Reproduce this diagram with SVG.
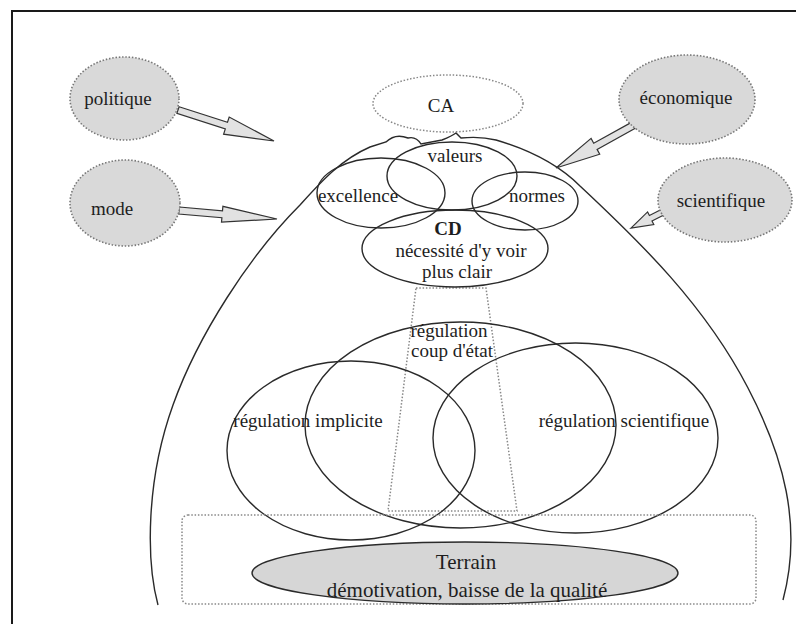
<svg xmlns="http://www.w3.org/2000/svg" width="796" height="624" viewBox="0 0 796 624">
  <style>
    text { font-family: "Liberation Serif", "Times New Roman", serif; font-size: 19px; fill: #1e1e1e; text-anchor: middle; }
    .big { font-size: 21px; }
    .bold { font-weight: bold; }
    .line { fill: none; stroke: #2a2a2a; stroke-width: 1.4; }
    .force { fill: #d9d9d9; stroke: #777; stroke-width: 1.6; stroke-dasharray: 1.5 1.8; }
    .dots { fill: none; stroke: #888; stroke-width: 1.5; stroke-dasharray: 1.5 1.8; }
    .arrow { fill: #e2e2e2; stroke: #333; stroke-width: 1.2; stroke-linejoin: miter; }
  </style>

  <!-- frame -->
  <path d="M12,624 V11 H796" fill="none" stroke="#1a1a1a" stroke-width="2"/>

  <!-- organisation outline -->
  <path class="line" d="M158,605 C146,560 146,480 173,405 C198,335 250,255 300,205 C320,183 340,160 370,147 L386,142 Q395,133 408,138 Q416,136 421,144 L442,140 Q452,136 456,133 L461,138 Q480,136 496,140 C530,150 560,166 580,186 C640,242 705,305 748,388 C783,455 803,525 783,600"/>

  <g id="connectors">
    <polygon class="arrow" points="179.1,106.7 227.5,122.3 229.2,117.0 274,141 223.6,134.2 225.3,128.9 176.9,113.3"/>
    <polygon class="arrow" points="179.3,207.0 222.5,210.8 222.9,206.3 277,219 221.5,222.2 221.9,217.7 178.7,214.0"/>
    <polygon class="arrow" points="632.3,121.9 593.7,143.2 591.1,138.4 556,168 599.7,154.2 597.1,149.4 635.7,128.1"/>
    <polygon class="arrow" points="661.7,209.3 649.4,215.5 647.6,211.9 631,228 653.8,224.5 652.0,220.9 664.3,214.7"/>
    <!-- projection cone from CD to terrain -->
    <polygon class="dots" points="416,288 486,288 517,511 388,511"/>
  </g>

  <g id="politique">
    <ellipse class="force" cx="124.5" cy="98.5" rx="54.5" ry="41.5"/>
    <text x="118" y="105">politique</text>
  </g>
  <g id="mode">
    <ellipse class="force" cx="125" cy="203" rx="55" ry="43"/>
    <text x="112" y="215">mode</text>
  </g>
  <g id="economique">
    <ellipse class="force" cx="687" cy="99.5" rx="68" ry="44.5"/>
    <text x="686" y="104">économique</text>
  </g>
  <g id="scientifique">
    <ellipse class="force" cx="725" cy="200" rx="67" ry="42"/>
    <text x="721" y="207">scientifique</text>
  </g>

  <g id="ca">
    <ellipse class="dots" cx="448" cy="103.5" rx="75" ry="28.5"/>
    <text x="441" y="112">CA</text>
  </g>

  <g id="valeurs">
    <ellipse class="line" cx="452" cy="176" rx="65" ry="34"/>
    <text x="455" y="162">valeurs</text>
  </g>
  <g id="excellence">
    <ellipse class="line" cx="381" cy="193" rx="64" ry="35"/>
    <text x="358" y="202">excellence</text>
  </g>
  <g id="normes">
    <ellipse class="line" cx="525" cy="201" rx="53" ry="29"/>
    <text x="537" y="202">normes</text>
  </g>
  <g id="cd">
    <ellipse class="line" cx="455" cy="248.5" rx="93" ry="38.5"/>
    <text class="bold" x="448" y="235">CD</text>
    <text x="461" y="257">nécessité d'y voir</text>
    <text x="457" y="278">plus clair</text>
  </g>

  <g id="regulation-coup-etat">
    <ellipse class="line" cx="460.5" cy="425" rx="155.5" ry="103"/>
    <text x="449" y="337">régulation</text>
    <text x="452" y="357">coup d'état</text>
  </g>
  <g id="regulation-implicite">
    <ellipse class="line" cx="351" cy="450.5" rx="124" ry="89.5"/>
    <text x="308" y="427">régulation implicite</text>
  </g>
  <g id="regulation-scientifique">
    <ellipse class="line" cx="575.5" cy="438" rx="142.5" ry="95"/>
    <text x="624" y="427">régulation scientifique</text>
  </g>

  <g id="terrain">
    <rect class="dots" x="182" y="515" width="574" height="89" rx="6"/>
    <ellipse cx="465" cy="573" rx="213" ry="31" fill="#d6d6d6" stroke="#2a2a2a" stroke-width="1.4"/>
    <text class="big" x="466" y="569">Terrain</text>
    <text class="big" x="467" y="597">démotivation, baisse de la qualité</text>
  </g>
</svg>
